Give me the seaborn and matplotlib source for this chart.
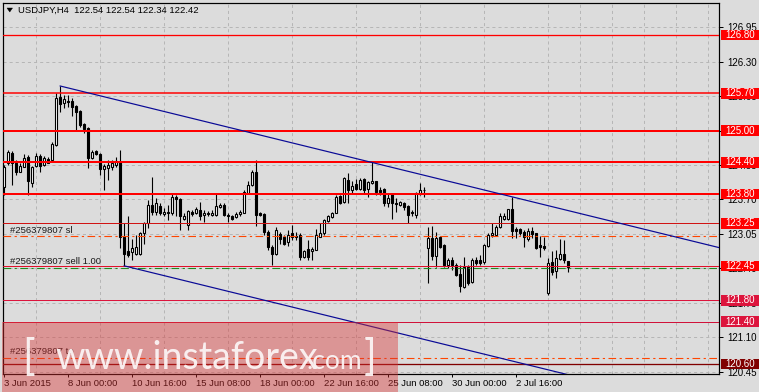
import numpy as np
import matplotlib
matplotlib.use("Agg")
import matplotlib.pyplot as plt
import seaborn as sns
from matplotlib import transforms
from matplotlib.patches import Rectangle, Polygon

# ---------------- data (USDJPY H4 candles) ----------------
opens = [123.94, 124.38, 124.58, 124.39, 124.22, 124.32, 124.51, 124.02, 124.33, 124.52,
         124.35, 124.46, 124.44, 124.73, 125.63, 125.51, 125.56, 125.56, 125.46, 125.37,
         125.12, 125.04, 124.48, 124.61, 124.56, 124.27, 124.29, 124.32, 124.35, 124.41,
         123.00, 122.73, 122.71, 122.68, 122.68, 123.06, 123.25, 123.60, 123.47, 123.58,
         123.43, 123.47, 123.44, 123.75, 123.70, 123.34, 123.22, 123.46, 123.45, 123.50,
         123.41, 123.44, 123.41, 123.41, 123.56, 123.60, 123.41, 123.39, 123.37, 123.42,
         123.45, 123.83, 123.97, 124.22, 123.44, 123.42, 123.09, 122.80, 122.68, 123.05,
         122.99, 122.89, 123.06, 122.99, 123.03, 122.62, 122.76, 122.72, 122.75, 123.00,
         123.06, 123.30, 123.37, 123.45, 123.76, 123.66, 124.07, 123.87, 124.00, 123.90,
         124.08, 123.90, 124.01, 124.05, 123.88, 123.89, 123.64, 123.80, 123.63, 123.60,
         123.63, 123.58, 123.46, 123.41, 123.80, 123.87, 122.78, 122.97, 122.64, 122.99,
         122.84, 122.47, 122.56, 122.47, 122.30, 122.05, 122.42, 122.15, 122.56, 122.56,
         122.53, 122.82, 123.03, 123.03, 123.19, 123.33, 123.33, 123.53, 123.14, 123.14,
         123.09, 122.95, 123.11, 123.06, 122.84, 122.82, 121.93, 122.53, 122.36, 122.57,
         122.67, 122.54]
highs = [124.35, 124.63, 124.62, 124.44, 124.38, 124.56, 124.54, 124.33, 124.57, 124.56,
         124.52, 124.50, 124.79, 125.70, 125.84, 125.67, 125.67, 125.61, 125.48, 125.39,
         125.15, 125.06, 124.63, 124.63, 124.57, 124.37, 124.44, 124.44, 124.50, 124.63,
         123.25, 123.39, 122.96, 123.03, 123.09, 123.28, 123.69, 124.13, 123.73, 123.63,
         123.54, 123.60, 123.83, 123.79, 123.72, 123.44, 123.50, 123.50, 123.56, 123.65,
         123.50, 123.48, 123.50, 123.80, 123.63, 123.63, 123.45, 123.41, 123.47, 123.50,
         123.88, 124.04, 124.26, 124.44, 123.46, 123.44, 123.13, 122.84, 123.19, 123.09,
         123.03, 123.13, 123.22, 123.09, 123.06, 122.75, 122.94, 122.81, 123.14, 123.25,
         123.34, 123.41, 123.47, 123.79, 123.79, 124.13, 124.19, 124.04, 124.08, 124.10,
         124.11, 124.05, 124.40, 124.05, 123.94, 123.91, 123.80, 123.83, 123.72, 123.68,
         123.66, 123.60, 123.50, 123.85, 124.01, 123.94, 123.19, 123.20, 123.09, 123.01,
         122.87, 122.59, 122.62, 122.50, 122.47, 122.62, 122.47, 122.59, 122.61, 122.65,
         122.87, 123.06, 123.25, 123.22, 123.44, 123.44, 123.53, 123.75, 123.19, 123.16,
         123.13, 123.16, 123.19, 123.07, 123.01, 123.00, 122.59, 122.72, 122.75, 122.95,
         122.94, 122.54]
lows = [123.79, 124.35, 123.97, 124.16, 124.21, 124.31, 123.79, 123.94, 124.31, 124.21,
        124.33, 124.38, 124.43, 124.71, 125.35, 125.42, 125.45, 125.27, 125.01, 125.07,
        124.95, 124.29, 124.46, 124.54, 124.16, 123.87, 124.07, 124.26, 124.31, 122.78,
        122.45, 122.62, 122.56, 122.65, 122.65, 122.87, 123.16, 123.41, 123.41, 123.41,
        123.39, 123.31, 123.41, 123.38, 123.13, 123.31, 123.13, 123.39, 123.43, 123.31,
        123.28, 123.39, 123.38, 123.38, 123.54, 123.38, 123.28, 123.31, 123.35, 123.38,
        123.44, 123.82, 123.95, 123.20, 123.39, 123.03, 122.75, 122.47, 122.65, 122.87,
        122.84, 122.82, 122.94, 122.94, 122.56, 122.59, 122.56, 122.55, 122.74, 122.99,
        123.03, 123.28, 123.35, 123.44, 123.62, 123.64, 123.64, 123.82, 123.87, 123.87,
        123.83, 123.74, 123.99, 123.79, 123.79, 123.58, 123.56, 123.33, 123.47, 123.58,
        123.50, 123.26, 123.38, 123.35, 123.79, 123.75, 122.12, 122.56, 122.42, 122.78,
        122.43, 122.41, 122.37, 122.25, 121.96, 122.03, 122.09, 122.12, 122.47, 122.47,
        122.49, 122.81, 123.00, 123.01, 123.16, 123.31, 123.31, 122.97, 122.97, 123.03,
        122.81, 122.91, 122.97, 122.76, 122.61, 122.75, 121.90, 122.28, 122.22, 122.56,
        122.50, 122.34]
closes = [124.32, 124.60, 124.39, 124.22, 124.33, 124.48, 124.04, 124.32, 124.52, 124.34,
          124.48, 124.39, 124.75, 125.61, 125.50, 125.59, 125.54, 125.44, 125.35, 125.10,
          125.02, 124.48, 124.60, 124.56, 124.27, 124.33, 124.35, 124.39, 124.43, 123.00,
          122.67, 122.66, 122.78, 122.80, 123.06, 123.25, 123.60, 123.47, 123.64, 123.45,
          123.47, 123.44, 123.75, 123.70, 123.38, 123.39, 123.48, 123.42, 123.52, 123.38,
          123.45, 123.42, 123.44, 123.58, 123.60, 123.41, 123.38, 123.34, 123.43, 123.47,
          123.85, 123.97, 124.21, 123.41, 123.41, 123.09, 122.80, 122.68, 123.13, 122.95,
          122.87, 123.03, 122.99, 123.01, 122.62, 122.72, 122.61, 122.76, 123.03, 123.07,
          123.31, 123.38, 123.45, 123.75, 123.64, 124.10, 123.87, 123.96, 123.89, 124.07,
          123.87, 124.03, 124.05, 123.85, 123.84, 123.64, 123.72, 123.64, 123.61, 123.66,
          123.55, 123.41, 123.44, 123.82, 123.88, 123.88, 122.97, 122.64, 122.97, 122.81,
          122.47, 122.56, 122.47, 122.28, 122.06, 122.42, 122.12, 122.56, 122.51, 122.51,
          122.84, 123.03, 123.07, 123.19, 123.38, 123.39, 123.52, 123.11, 123.11, 123.06,
          122.99, 123.11, 123.05, 122.78, 122.81, 122.78, 122.50, 122.34, 122.59, 122.67,
          122.55, 122.42]

xtick_pos = [0, 16, 32, 48, 64, 80, 96, 112, 128]
xtick_labels = ["3 Jun 2015", "8 Jun 00:00", "10 Jun 16:00", "15 Jun 08:00", "18 Jun 00:00",
                "22 Jun 16:00", "25 Jun 08:00", "30 Jun 00:00", "2 Jul 16:00"]
ytick_vals = [126.95, 126.30, 125.65, 125.00, 124.35, 123.70, 123.05, 122.40, 121.75, 121.10, 120.45]

levels = [126.80, 125.70, 125.00, 124.40, 123.80, 123.25, 122.45, 121.80, 121.40, 120.60]
level_line_colors = ["#ff0000", "#ff0000", "#ff0000", "#ff0000", "#ff0000",
                     "#d01414", "#e0102a", "#dc143c", "#d0123a", "#800000"]
level_box_colors = ["#ff0000", "#ff0000", "#ff0000", "#ff0000", "#ff0000",
                    "#ff0000", "#ff0000", "#dc143c", "#dc143c", "#800000"]
level_widths_px = [1.3, 1.5, 2.0, 2.0, 2.0, 1.0, 1.0, 1.0, 1.0, 1.3]

order_levels = [123.01, 122.415, 120.71]
order_colors = ["#ff4500", "#1f8a1f", "#ff4500"]
order_labels = ["#256379807 sl", "#256379807 sell 1.00", "#256379807 tp"]
order_label_y = [123.11, 122.53, 120.83]

upper_anchor = [(14, 125.84), (127, 123.75)]
lower_start = (30, 122.45)

title = "USDJPY,H4  122.54 122.54 122.34 122.42"

# ---------------- style ----------------
sns.set_theme(style="white")
plt.rcParams['font.family'] = ['Liberation Sans', 'DejaVu Sans']
plt.rcParams['lines.scale_dashes'] = False

BG = "#dcdcdc"
GRID = "#b6b6b6"
PX = 0.72  # one pixel in points at 100 dpi
W, H = 759, 392

fig = plt.figure(figsize=(W / 100, H / 100), dpi=100, facecolor=BG)
L, R, T, B = 3.0, 719.3, 2.5, 373.5
ax = fig.add_axes([L / W, 1 - B / H, (R - L) / W, (B - T) / H])
ax.set_facecolor(BG)
ax.set_xlim(-0.25, 178.8)
ax.set_ylim(120.42, 127.413)
for s in ax.spines.values():
    s.set_color("black")
    s.set_linewidth(PX * 1.2)

# grid
ax.set_axisbelow(True)
ax.set_xticks(np.arange(0, 179, 8), minor=True)
ax.grid(True, axis='x', which='minor', color=GRID, lw=PX, ls=(0, (2.2, 2.2)))
ax.grid(True, axis='y', which='major', color=GRID, lw=PX, ls=(0, (2.2, 2.2)))

# ticks
ax.set_xticks(xtick_pos, xtick_labels)
for lab in ax.get_xticklabels():
    lab.set_ha('left')
ax.tick_params(axis='x', which='major', bottom=True, direction='out', length=2.5, width=PX,
               pad=1.5, labelsize=6.8, colors='black')
ax.tick_params(axis='x', which='minor', length=0)
ax.yaxis.tick_right()
ax.set_yticks(ytick_vals, [f"{v:.2f}" for v in ytick_vals])
for lab in ax.get_yticklabels():
    lab.set_ha('left')
ax.tick_params(axis='y', which='major', right=True, direction='out', length=3, width=PX,
               pad=2.5, labelsize=7, colors='black')

# candles
o = np.array(opens); h = np.array(highs); l = np.array(lows); c = np.array(closes)
x = np.arange(len(o))
up = c >= o
ax.vlines(x, l, h, color='black', lw=PX * 1.1, zorder=3)
ax.bar(x[up], c[up] - o[up], bottom=o[up], width=0.5, color='white', edgecolor='black',
       linewidth=PX * 1.1, zorder=4)
ax.bar(x[~up], c[~up] - o[~up], bottom=o[~up], width=0.5, color='black', edgecolor='black',
       linewidth=PX * 1.1, zorder=4)

# order lines
for lv, col in zip(order_levels, order_colors):
    ax.axhline(lv, color=col, lw=PX * 1.1, ls=(0, (5.5, 2.5, 1.6, 2.5)), zorder=5)
for txt, ly in zip(order_labels, order_label_y):
    ax.text(1.5, ly, txt, fontsize=6.8, color='#1a1a1a', va='center', ha='left', zorder=6)

# horizontal levels
for lv, col, lw in zip(levels, level_line_colors, level_widths_px):
    ax.axhline(lv, color=col, lw=PX * lw, zorder=5)

# trend channel
slope = (upper_anchor[1][1] - upper_anchor[0][1]) / (upper_anchor[1][0] - upper_anchor[0][0])
xe = 180.0
up_x = [upper_anchor[0][0], xe]
up_y = [upper_anchor[0][1], upper_anchor[0][1] + slope * (xe - upper_anchor[0][0])]
lo_x = [lower_start[0], xe]
lo_y = [lower_start[1], lower_start[1] + slope * (xe - lower_start[0])]
sns.lineplot(x=up_x, y=up_y, ax=ax, color='#0a0a96', lw=PX * 1.2, zorder=6)
sns.lineplot(x=lo_x, y=lo_y, ax=ax, color='#0a0a96', lw=PX * 1.2, zorder=6)
ax.set_xlim(-0.25, 178.8)
ax.set_ylim(120.42, 127.413)

# right-hand price boxes
blend = transforms.blended_transform_factory(ax.transAxes, ax.transData)
axw = R - L
bh = 10.5 / 53.06
for lv, col in zip(levels, level_box_colors):
    ax.add_patch(Rectangle((1 + 1.7 / axw, lv - bh / 2), 37.5 / axw, bh, transform=blend,
                           facecolor=col, edgecolor='none', clip_on=False, zorder=8))
    ax.text(1 + 6.0 / axw, lv, f"{lv:.2f}", transform=blend, color='white', fontsize=7,
            va='center', ha='left', zorder=9, clip_on=False)

# title
fig.text(18 / W, 1 - 10 / H, title, fontsize=6.8, color='black', va='center', ha='left')
fig.add_artist(Polygon([(7 / W, 1 - 8 / H), (12.5 / W, 1 - 8 / H), (9.75 / W, 1 - 12 / H)],
                       closed=True, transform=fig.transFigure, facecolor='black',
                       edgecolor='black', lw=0.3))

# watermark
fig.add_artist(Rectangle((2 / W, 0), 396 / W, 70 / H, transform=fig.transFigure,
                         facecolor='#db3333', alpha=0.42, lw=0, zorder=20))
wm_font = ['Lato', 'Open Sans', 'DejaVu Sans']
wm_col = '#fbf4f4'
fig.text(55 / W, 1 - 369 / H, "www.instaforex", fontsize=27, family=wm_font, weight='normal',
         color=wm_col, alpha=0.95, va='baseline', ha='left', zorder=21)
fig.text(306 / W, 1 - 369 / H, ".com", fontsize=19, family=wm_font, weight='normal',
         color=wm_col, alpha=0.95, va='baseline', ha='left', zorder=21)
fig.text(22 / W, 1 - 370 / H, "[", fontsize=30, family=wm_font, weight='normal',
         color=wm_col, alpha=0.95, va='baseline', ha='left', zorder=21)
fig.text(364 / W, 1 - 370 / H, "]", fontsize=30, family=wm_font, weight='normal',
         color=wm_col, alpha=0.95, va='baseline', ha='left', zorder=21)

fig.savefig("out.png", dpi=100, facecolor=BG)
